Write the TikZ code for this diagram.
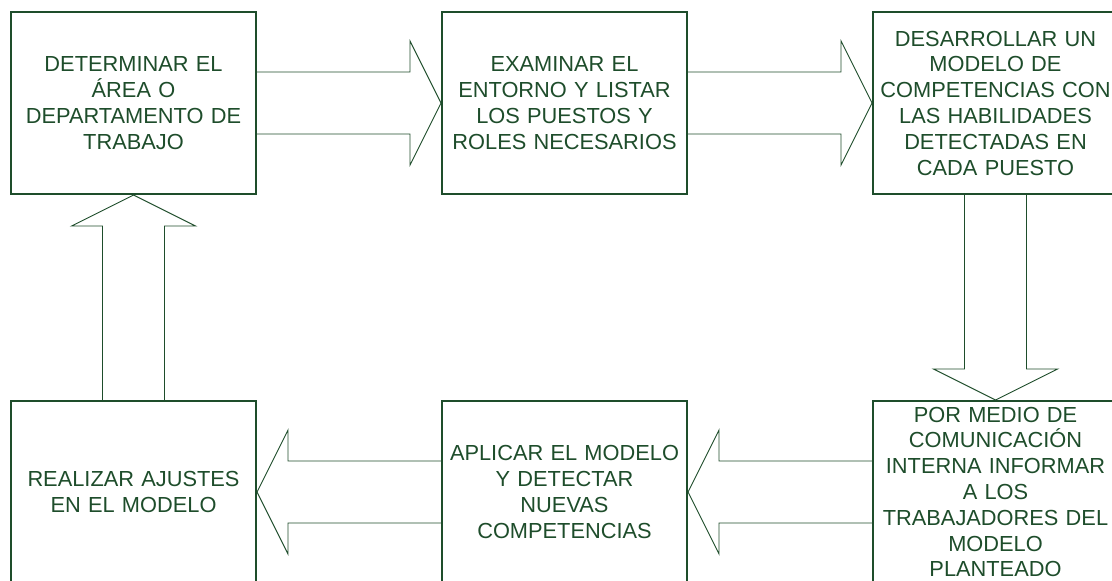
\documentclass[tikz,border=0pt]{standalone}
\usepackage{fontspec}
\setmainfont{Liberation Sans}
\usepackage{xcolor}
\usepackage{tikz}
\usetikzlibrary{positioning,calc}
\definecolor{verde}{HTML}{1E4D2B}

\begin{document}
\begin{tikzpicture}[x=1pt, y=-1pt,
    caja/.style={draw=verde, line width=2pt, fill=white, minimum width=245, minimum height=182, text width=240, inner sep=0pt, align=center, text=verde, font=\fontsize{21.8}{25.8}\selectfont},
    flecha/.style={draw=verde, line width=0.9pt, line join=miter}]
    \useasboundingbox (0,0) rectangle (1112,581);
    \clip (0,0) rectangle (1112,581);

    % Top row
    \node[caja] (area) at (133.5,103) {DETERMINAR EL\\ÁREA O\\DEPARTAMENTO DE\\TRABAJO};
    \node[caja, right=184pt of area] (entorno) {EXAMINAR EL\\ENTORNO Y LISTAR\\LOS PUESTOS Y\\ROLES NECESARIOS};
    \node[caja, right=184pt of entorno] (modelo) {DESARROLLAR UN\\MODELO DE\\COMPETENCIAS CON\\LAS HABILIDADES\\DETECTADAS EN\\CADA PUESTO};

    % Bottom row
    \node[caja, below=205pt of area] (ajustes) {REALIZAR AJUSTES\\EN EL MODELO};
    \node[caja, below=205pt of entorno] (aplicar) {APLICAR EL MODELO\\Y DETECTAR\\NUEVAS\\COMPETENCIAS};
    \node[caja, below=205pt of modelo] (informar) {POR MEDIO DE\\COMUNICACIÓN\\INTERNA INFORMAR\\A LOS\\TRABAJADORES DEL\\MODELO\\PLANTEADO};

    % Block arrows
    \draw[flecha] ($(area.east)+(0,-31)$) -- ($(entorno.west)+(-31,-31)$) -- ($(entorno.west)+(-31,-62)$) -- (entorno.west)
        -- ($(entorno.west)+(-31,62)$) -- ($(entorno.west)+(-31,31)$) -- ($(area.east)+(0,31)$);
    \draw[flecha] ($(entorno.east)+(0,-31)$) -- ($(modelo.west)+(-31,-31)$) -- ($(modelo.west)+(-31,-62)$) -- (modelo.west)
        -- ($(modelo.west)+(-31,62)$) -- ($(modelo.west)+(-31,31)$) -- ($(entorno.east)+(0,31)$);
    \draw[flecha] ($(modelo.south)+(-31,0)$) -- ($(informar.north)+(-31,-31)$) -- ($(informar.north)+(-62,-31)$) -- (informar.north)
        -- ($(informar.north)+(62,-31)$) -- ($(informar.north)+(31,-31)$) -- ($(modelo.south)+(31,0)$);
    \draw[flecha] ($(informar.west)+(0,-31)$) -- ($(aplicar.east)+(31,-31)$) -- ($(aplicar.east)+(31,-62)$) -- (aplicar.east)
        -- ($(aplicar.east)+(31,62)$) -- ($(aplicar.east)+(31,31)$) -- ($(informar.west)+(0,31)$);
    \draw[flecha] ($(aplicar.west)+(0,-31)$) -- ($(ajustes.east)+(31,-31)$) -- ($(ajustes.east)+(31,-62)$) -- (ajustes.east)
        -- ($(ajustes.east)+(31,62)$) -- ($(ajustes.east)+(31,31)$) -- ($(aplicar.west)+(0,31)$);
    \draw[flecha] ($(ajustes.north)+(-31,0)$) -- ($(area.south)+(-31,31)$) -- ($(area.south)+(-62,31)$) -- (area.south)
        -- ($(area.south)+(62,31)$) -- ($(area.south)+(31,31)$) -- ($(ajustes.north)+(31,0)$);
\end{tikzpicture}
\end{document}
